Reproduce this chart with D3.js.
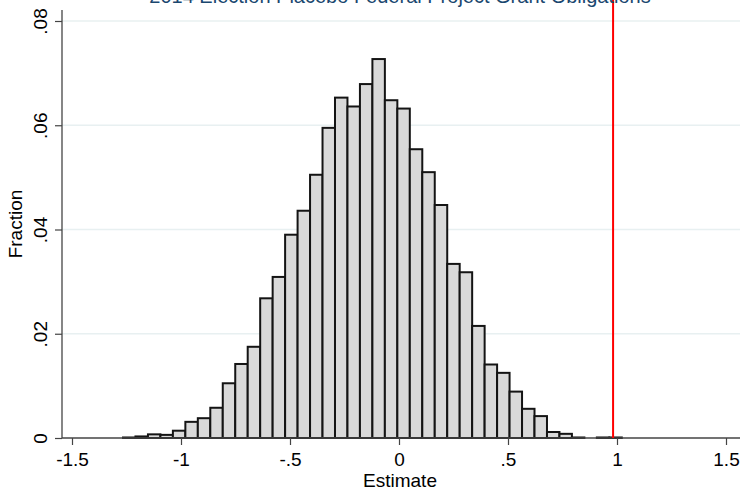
<!DOCTYPE html>
<html>
<head>
<meta charset="utf-8">
<script src="https://cdn.jsdelivr.net/npm/d3@7"></script>
<style>
  html, body { margin: 0; padding: 0; background: #fff; }
  svg { display: block; font-family: Arial, "Liberation Sans", sans-serif; }
</style>
</head>
<body>
<svg id="chart" width="744" height="492"></svg>
<script>
// Histogram of placebo estimates: 40 equal-width bins
const binStart = -1.266;
const binWidth = 0.0572;
const fractions = [
  0.0001, 0.0003, 0.0007, 0.0006, 0.0014, 0.0031, 0.0038, 0.0058, 0.0105, 0.0142,
  0.0175, 0.0268, 0.0309, 0.0390, 0.0436, 0.0505, 0.0595, 0.0653, 0.0636, 0.0679,
  0.0727, 0.0648, 0.0632, 0.0554, 0.0510, 0.0447, 0.0334, 0.0318, 0.0215, 0.0141,
  0.0125, 0.0089, 0.0056, 0.0042, 0.00115, 0.0008, 0.0001, 0, 0.0001, 0.0001
];
const actualEstimate = 0.982;

const xTicks = [-1.5, -1, -0.5, 0, 0.5, 1, 1.5];
const xTickLabels = ["-1.5", "-1", "-.5", "0", ".5", "1", "1.5"];
const yTicks = [0, 0.02, 0.04, 0.06, 0.08];
const yTickLabels = ["0", ".02", ".04", ".06", ".08"];

const titleText = "2014 Election Placebo Federal Project Grant Obligations";
const xTitle = "Estimate";
const yTitle = "Fraction";

const svg = d3.select("#chart");
const axisLeftX = 62, axisRightX = 740, baseY = 438, topY = 10;

const x = d3.scaleLinear().domain([-1.5, 1.5]).range([72, 726]);
const y = d3.scaleLinear().domain([0, 0.08]).range([baseY, 21]);

const bins = fractions.map((f, i) => ({
  x0: binStart + i * binWidth,
  x1: binStart + (i + 1) * binWidth,
  f
}));

// gridlines
svg.append("g")
  .selectAll("line")
  .data(yTicks.filter(d => d > 0))
  .join("line")
  .attr("x1", axisLeftX).attr("x2", axisRightX)
  .attr("y1", d => y(d)).attr("y2", d => y(d))
  .attr("stroke", "#e8f0f1").attr("stroke-width", 1.3);

// bars
svg.append("g")
  .selectAll("rect")
  .data(bins.filter(b => b.f > 0))
  .join("rect")
  .attr("x", d => x(d.x0))
  .attr("width", d => x(d.x1) - x(d.x0))
  .attr("y", d => y(d.f))
  .attr("height", d => y(0) - y(d.f))
  .attr("fill", "#d9d9d9")
  .attr("stroke", "#141414")
  .attr("stroke-width", 2);

// y axis
const yAxis = d3.axisLeft(y)
  .tickValues(yTicks)
  .tickFormat((d, i) => yTickLabels[i])
  .tickSize(7)
  .tickSizeOuter(0);
const gy = svg.append("g").attr("transform", `translate(${axisLeftX},0)`).call(yAxis);
gy.select(".domain").remove();
gy.selectAll(".tick line").attr("stroke", "#444").attr("stroke-width", 1.2);
gy.selectAll(".tick text")
  .attr("fill", "#000")
  .attr("font-size", 19)
  .attr("text-anchor", "middle")
  .attr("x", 0).attr("y", 0).attr("dy", null)
  .attr("transform", "translate(-15,0) rotate(-90)");
svg.append("line")
  .attr("x1", axisLeftX).attr("x2", axisLeftX)
  .attr("y1", topY).attr("y2", baseY)
  .attr("stroke", "#444").attr("stroke-width", 1.3);

// x axis
const xAxis = d3.axisBottom(x)
  .tickValues(xTicks)
  .tickFormat((d, i) => xTickLabels[i])
  .tickSize(7)
  .tickSizeOuter(0);
const gx = svg.append("g").attr("transform", `translate(0,${baseY})`).call(xAxis);
gx.select(".domain").remove();
gx.selectAll(".tick line").attr("stroke", "#444").attr("stroke-width", 1.2);
gx.selectAll(".tick text")
  .attr("fill", "#000")
  .attr("font-size", 19)
  .attr("y", 15).attr("dy", "0.71em");
svg.append("line")
  .attr("x1", axisLeftX).attr("x2", axisRightX)
  .attr("y1", baseY).attr("y2", baseY)
  .attr("stroke", "#444").attr("stroke-width", 1.3);

// observed estimate
svg.append("line")
  .attr("x1", x(actualEstimate)).attr("x2", x(actualEstimate))
  .attr("y1", 0).attr("y2", baseY)
  .attr("stroke", "#ff0000").attr("stroke-width", 2);

// titles
svg.append("text")
  .attr("x", 400).attr("y", 3)
  .attr("text-anchor", "middle")
  .attr("font-size", 20)
  .attr("fill", "#1a476f")
  .text(titleText);

svg.append("text")
  .attr("x", 400).attr("y", 487)
  .attr("text-anchor", "middle")
  .attr("font-size", 19)
  .attr("fill", "#000")
  .text(xTitle);

svg.append("text")
  .attr("transform", "translate(22,224) rotate(-90)")
  .attr("text-anchor", "middle")
  .attr("font-size", 19)
  .attr("fill", "#000")
  .text(yTitle);
</script>
</body>
</html>
